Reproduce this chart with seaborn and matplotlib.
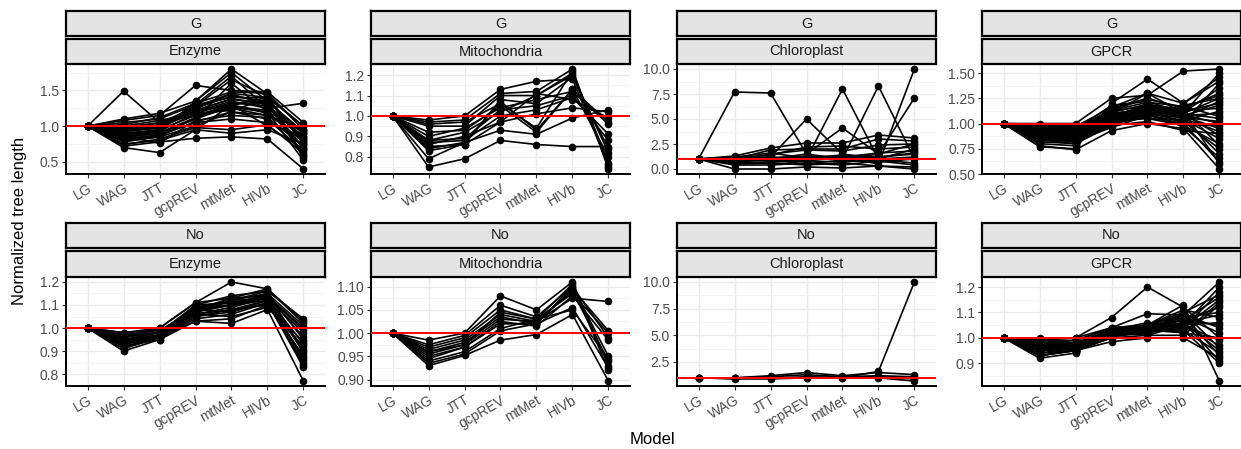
import matplotlib
matplotlib.use("Agg")
import matplotlib.pyplot as plt
import numpy as np
import pandas as pd
import seaborn as sns

MODELS = ["LG", "WAG", "JTT", "gcpREV", "mtMet", "HIVb", "JC"]
GROUPS = ["G", "No"]
DATASETS = ["Enzyme", "Mitochondria", "Chloroplast", "GPCR"]

G_ENZYME = [
    [1, 1.49, 1.05, 1.20, 1.30, 1.40, 1.00],
    [1, 0.70, 0.63, 0.95, 1.30, 1.35, 0.90],
    [1, 1.10, 1.18, 1.35, 1.80, 1.45, 0.55],
    [1, 0.72, 0.78, 0.83, 0.85, 0.82, 0.40],
    [1, 1.08, 1.15, 1.57, 1.50, 1.48, 1.05],
    [1, 0.90, 0.95, 1.30, 1.70, 1.25, 1.32],
    [1, 0.85, 0.90, 1.10, 1.60, 1.20, 0.52],
    [1, 0.95, 1.00, 1.25, 1.45, 1.30, 0.70],
    [1, 0.80, 0.85, 1.00, 1.20, 1.10, 0.65],
    [1, 1.05, 1.10, 1.30, 1.40, 1.40, 0.80],
    [1, 0.75, 0.80, 0.95, 0.90, 0.95, 0.75],
    [1, 0.98, 1.05, 1.15, 1.25, 1.15, 0.95],
    [1, 0.88, 0.92, 1.35, 1.75, 1.35, 0.60],
    [1, 0.82, 0.88, 1.05, 1.10, 1.05, 0.85],
    [1, 0.92, 0.98, 1.20, 1.35, 1.25, 0.90],
    [1, 0.78, 0.85, 1.12, 1.30, 1.00, 0.68],
    [1, 0.96, 1.02, 1.28, 1.65, 1.42, 1.00],
    [1, 1.00, 1.08, 1.18, 1.22, 1.38, 0.78],
    [1, 0.86, 0.76, 1.08, 1.15, 1.12, 0.72],
    [1, 0.93, 0.97, 1.22, 1.38, 1.30, 0.82],
    [1, 0.74, 0.82, 0.98, 0.95, 1.02, 0.62],
    [1, 1.02, 1.12, 1.32, 1.48, 1.46, 0.95],
    [1, 0.90, 0.93, 1.18, 1.33, 1.28, 0.85],
    [1, 0.84, 0.90, 1.10, 1.28, 1.22, 0.70],
    [1, 0.97, 1.00, 1.25, 1.42, 1.35, 0.92],
    [1, 0.88, 0.95, 1.15, 1.30, 1.18, 0.78],
    [1, 0.94, 0.99, 1.22, 1.38, 1.32, 0.58],
    [1, 0.80, 0.87, 1.06, 1.20, 1.15, 0.88],
    [1, 0.99, 1.04, 1.27, 1.46, 1.40, 0.75],
    [1, 0.86, 0.91, 1.12, 1.26, 1.20, 0.95],
]
G_MITO = [
    [1, 0.75, 0.79, 0.88, 0.86, 0.85, 0.85],
    [1, 0.79, 0.87, 0.93, 0.91, 0.99, 1.03],
    [1, 0.98, 1.00, 1.13, 1.17, 1.18, 0.76],
    [1, 0.97, 0.98, 1.11, 1.12, 1.23, 0.74],
    [1, 0.96, 0.97, 1.06, 0.94, 1.22, 0.75],
    [1, 0.95, 0.95, 1.10, 1.10, 1.20, 0.82],
    [1, 0.92, 0.93, 1.05, 0.92, 1.13, 0.97],
    [1, 0.90, 0.94, 1.04, 1.08, 1.12, 0.96],
    [1, 0.88, 0.89, 1.03, 1.05, 1.10, 0.88],
    [1, 0.87, 0.88, 1.00, 1.03, 1.09, 0.91],
    [1, 0.86, 0.90, 0.97, 1.01, 1.04, 1.02],
    [1, 0.85, 0.86, 1.08, 1.06, 1.19, 0.84],
    [1, 0.84, 0.87, 1.07, 0.93, 1.13, 0.80],
    [1, 0.83, 0.86, 0.97, 1.11, 1.08, 0.99],
    [1, 0.88, 0.92, 1.02, 1.10, 1.21, 0.77],
]
G_CHLORO = [
    [1, 7.7, 7.6, 1.5, 1.0, 1.2, 1.5],
    [1, 1.0, 1.2, 5.0, 1.5, 1.0, 2.0],
    [1, 1.0, 0.8, 1.0, 8.0, 1.0, 1.2],
    [1, 1.2, 1.0, 1.5, 4.1, 1.5, 2.5],
    [1, 0.8, 1.0, 1.2, 1.0, 8.3, 1.0],
    [1, 1.0, 1.0, 0.8, 1.2, 0.5, 10.0],
    [1, 1.0, 1.2, 1.0, 1.0, 1.5, 7.1],
    [1, 0.0, 0.0, 0.2, 0.1, 0.3, 0.0],
    [1, 1.3, 2.1, 2.6, 2.6, 3.4, 3.1],
    [1, 0.5, 0.6, 0.4, 0.6, 0.3, 0.2],
    [1, 1.0, 1.9, 2.0, 2.0, 3.0, 2.8],
    [1, 0.8, 1.5, 1.9, 1.8, 2.4, 2.5],
    [1, 0.9, 1.1, 1.3, 1.2, 1.6, 1.8],
    [1, 0.6, 0.7, 0.8, 0.7, 0.9, 0.6],
    [1, 1.1, 1.4, 2.2, 2.3, 2.0, 2.2],
    [1, 0.4, 0.4, 0.6, 0.4, 0.8, 0.4],
    [1, 1.2, 1.6, 1.1, 1.4, 1.2, 1.6],
    [1, 0.7, 0.9, 0.5, 0.9, 0.7, 1.0],
]
G_GPCR = [
    [1, 1.00, 1.00, 1.25, 1.28, 1.52, 1.54],
    [1, 0.78, 0.74, 0.93, 1.00, 0.95, 0.55],
    [1, 0.77, 0.75, 1.20, 1.44, 1.20, 1.42],
    [1, 0.80, 0.78, 1.10, 1.30, 1.10, 1.50],
    [1, 0.85, 0.82, 1.00, 1.15, 1.00, 0.62],
    [1, 0.90, 0.88, 1.15, 1.25, 1.15, 1.30],
    [1, 0.95, 0.92, 1.05, 1.20, 1.05, 0.70],
    [1, 0.88, 0.85, 1.08, 1.10, 1.18, 1.25],
    [1, 0.92, 0.90, 1.02, 1.05, 0.98, 0.80],
    [1, 0.97, 0.96, 1.12, 1.18, 1.12, 1.20],
    [1, 0.82, 0.80, 0.98, 1.02, 0.93, 0.90],
    [1, 0.93, 0.94, 1.18, 1.22, 1.10, 1.05],
    [1, 0.86, 0.83, 0.96, 1.08, 1.02, 0.75],
    [1, 0.99, 0.98, 1.07, 1.12, 1.08, 1.10],
    [1, 0.90, 0.86, 1.03, 1.16, 1.07, 0.95],
    [1, 0.84, 0.80, 1.00, 1.06, 1.00, 1.40],
    [1, 0.94, 0.93, 1.10, 1.14, 1.13, 1.15],
    [1, 0.87, 0.88, 1.05, 1.20, 1.04, 0.85],
    [1, 0.96, 0.95, 1.14, 1.24, 1.16, 1.28],
    [1, 0.83, 0.84, 0.99, 1.09, 0.97, 0.66],
    [1, 0.91, 0.91, 1.06, 1.12, 1.09, 1.00],
    [1, 0.98, 0.97, 1.16, 1.30, 1.20, 1.46],
    [1, 0.89, 0.87, 1.04, 1.13, 1.06, 1.22],
    [1, 0.93, 0.90, 1.08, 1.17, 1.10, 0.88],
    [1, 0.86, 0.84, 1.02, 1.10, 1.03, 1.12],
    [1, 0.95, 0.94, 1.11, 1.19, 1.14, 0.78],
    [1, 0.91, 0.89, 1.06, 1.15, 1.11, 1.35],
    [1, 0.88, 0.86, 1.00, 1.09, 0.99, 0.98],
    [1, 0.97, 0.95, 1.13, 1.21, 1.17, 1.07],
    [1, 0.84, 0.82, 1.01, 1.11, 1.05, 0.92],
    [1, 0.92, 0.92, 1.09, 1.16, 1.08, 1.18],
    [1, 0.90, 0.90, 1.07, 1.18, 1.12, 0.60],
    [1, 0.94, 0.91, 1.04, 1.14, 1.06, 1.02],
    [1, 0.87, 0.85, 1.03, 1.12, 1.10, 1.25],
]
NO_ENZYME = [
    [1, 0.90, 0.95, 1.03, 1.02, 1.08, 0.77],
    [1, 0.98, 1.00, 1.11, 1.20, 1.17, 1.03],
    [1, 0.93, 0.96, 1.10, 1.14, 1.16, 1.04],
    [1, 0.95, 0.97, 1.07, 1.10, 1.12, 0.84],
    [1, 0.92, 0.95, 1.05, 1.08, 1.10, 0.88],
    [1, 0.96, 0.98, 1.09, 1.12, 1.15, 0.95],
    [1, 0.97, 0.99, 1.06, 1.05, 1.09, 0.92],
    [1, 0.94, 0.97, 1.08, 1.13, 1.14, 1.00],
    [1, 0.91, 0.96, 1.04, 1.06, 1.11, 0.83],
    [1, 0.95, 0.98, 1.10, 1.11, 1.13, 0.98],
    [1, 0.98, 0.99, 1.08, 1.07, 1.12, 0.90],
    [1, 0.93, 0.97, 1.06, 1.09, 1.13, 0.86],
    [1, 0.96, 1.00, 1.11, 1.13, 1.17, 1.02],
    [1, 0.94, 0.96, 1.03, 1.04, 1.10, 0.94],
    [1, 0.97, 0.98, 1.09, 1.10, 1.14, 0.96],
    [1, 0.95, 0.96, 1.07, 1.12, 1.16, 0.89],
    [1, 0.94, 0.97, 1.08, 1.10, 1.13, 0.91],
    [1, 0.96, 0.98, 1.09, 1.11, 1.14, 0.99],
    [1, 0.93, 0.96, 1.06, 1.08, 1.12, 0.87],
    [1, 0.95, 0.97, 1.07, 1.10, 1.15, 1.01],
    [1, 0.97, 0.98, 1.08, 1.12, 1.13, 0.93],
    [1, 0.92, 0.96, 1.05, 1.07, 1.11, 0.85],
]
NO_MITO = [
    [1, 0.985, 1.000, 1.080, 1.050, 1.110, 0.930],
    [1, 0.975, 0.995, 1.060, 1.035, 1.100, 0.950],
    [1, 0.970, 0.990, 1.050, 1.030, 1.105, 0.920],
    [1, 0.965, 0.985, 1.040, 1.025, 1.075, 1.068],
    [1, 0.960, 0.980, 1.035, 1.020, 1.095, 1.005],
    [1, 0.955, 0.975, 1.030, 1.025, 1.090, 0.940],
    [1, 0.950, 0.970, 1.025, 1.015, 1.080, 0.985],
    [1, 0.945, 0.970, 1.020, 1.020, 1.055, 0.925],
    [1, 0.940, 0.960, 1.010, 1.030, 1.050, 0.945],
    [1, 0.935, 0.955, 1.005, 1.020, 1.100, 0.990],
    [1, 0.930, 0.952, 0.985, 0.997, 1.040, 0.897],
    [1, 0.960, 0.975, 1.045, 1.030, 1.085, 1.000],
]
NO_CHLORO = [
    [1, 0.95, 1.00, 1.00, 1.00, 1.60, 10.0],
    [1, 1.00, 1.20, 1.50, 1.20, 1.50, 1.30],
    [1, 0.90, 0.90, 1.00, 1.00, 1.00, 0.70],
    [1, 1.00, 1.10, 1.30, 1.10, 1.20, 1.10],
    [1, 0.95, 1.00, 1.10, 1.05, 1.10, 0.90],
]
NO_GPCR = [
    [1, 1.00, 1.00, 1.08, 1.20, 1.12, 1.00],
    [1, 0.92, 0.94, 1.04, 1.095, 1.09, 1.22],
    [1, 0.93, 0.95, 1.00, 1.05, 1.13, 0.83],
    [1, 0.95, 0.96, 1.03, 1.04, 1.05, 1.20],
    [1, 0.97, 0.97, 1.02, 1.03, 1.03, 0.90],
    [1, 0.98, 0.99, 1.04, 1.05, 1.10, 1.17],
    [1, 0.96, 0.95, 0.985, 1.00, 1.00, 0.92],
    [1, 0.99, 0.98, 1.03, 1.06, 1.04, 1.15],
    [1, 0.94, 0.96, 1.01, 1.02, 1.06, 0.95],
    [1, 0.97, 0.98, 1.02, 1.04, 1.08, 1.10],
    [1, 0.95, 0.97, 1.01, 1.03, 1.02, 1.00],
    [1, 0.99, 1.00, 1.04, 1.05, 1.07, 1.05],
    [1, 0.96, 0.97, 1.02, 1.01, 1.05, 0.97],
    [1, 0.98, 0.98, 1.03, 1.04, 1.07, 1.12],
    [1, 0.93, 0.95, 1.02, 1.03, 1.09, 0.93],
    [1, 0.97, 0.96, 1.03, 1.05, 1.11, 1.08],
    [1, 0.96, 0.96, 1.01, 1.02, 1.04, 1.18],
    [1, 0.95, 0.955, 1.015, 1.025, 1.06, 0.91],
    [1, 0.97, 0.965, 1.02, 1.035, 1.07, 1.16],
    [1, 0.98, 0.97, 1.025, 1.03, 1.03, 0.94],
    [1, 0.94, 0.95, 1.005, 1.02, 1.05, 1.06],
    [1, 0.99, 0.99, 1.035, 1.045, 1.08, 1.02],
    [1, 0.96, 0.98, 1.03, 1.04, 1.02, 1.14],
    [1, 0.97, 0.96, 1.015, 1.03, 1.10, 0.96],
    [1, 0.95, 0.96, 1.02, 1.04, 1.06, 1.09],
    [1, 0.98, 0.975, 1.025, 1.035, 1.05, 0.99],
    [1, 0.93, 0.95, 1.00, 1.01, 1.01, 1.13],
    [1, 0.965, 0.97, 1.03, 1.05, 1.09, 1.04],
]

PANEL_DATA = {
    ("G", "Enzyme"): G_ENZYME, ("G", "Mitochondria"): G_MITO,
    ("G", "Chloroplast"): G_CHLORO, ("G", "GPCR"): G_GPCR,
    ("No", "Enzyme"): NO_ENZYME, ("No", "Mitochondria"): NO_MITO,
    ("No", "Chloroplast"): NO_CHLORO, ("No", "GPCR"): NO_GPCR,
}
YTICKS = {
    ("G", "Enzyme"): ([0.5, 1.0, 1.5], "%.1f"),
    ("G", "Mitochondria"): ([0.8, 0.9, 1.0, 1.1, 1.2], "%.1f"),
    ("G", "Chloroplast"): ([0.0, 2.5, 5.0, 7.5, 10.0], "%.1f"),
    ("G", "GPCR"): ([0.5, 0.75, 1.0, 1.25, 1.5], "%.2f"),
    ("No", "Enzyme"): ([0.8, 0.9, 1.0, 1.1, 1.2], "%.1f"),
    ("No", "Mitochondria"): ([0.90, 0.95, 1.00, 1.05, 1.10], "%.2f"),
    ("No", "Chloroplast"): ([2.5, 5.0, 7.5, 10.0], "%.1f"),
    ("No", "GPCR"): ([0.9, 1.0, 1.1, 1.2], "%.1f"),
}

sns.set_theme(style="white")
plt.rcParams["font.family"] = ["Liberation Sans", "DejaVu Sans"]

W, H = 1241, 449
fig = plt.figure(figsize=(W / 100, H / 100), dpi=100)

lefts = [66, 371, 677, 982]
pw = 259
rows = {"G": (64, 174, 11, 36, 39, 64), "No": (277, 386, 223, 248, 251, 277)}


def fr(x0, y0, x1, y1):
    return [x0 / W, 1 - y1 / H, (x1 - x0) / W, (y1 - y0) / H]


def strip(x0, y0, y1, text):
    sa = fig.add_axes(fr(x0, y0, x0 + pw, y1))
    sa.set_facecolor("#E4E4E4")
    sa.set_xticks([]); sa.set_yticks([])
    for s in sa.spines.values():
        s.set_color("black"); s.set_linewidth(1.6)
    sa.text(0.5, 0.5, text, ha="center", va="center", fontsize=10.5,
            color="#1A1A1A", transform=sa.transAxes)


for g in GROUPS:
    py0, py1, s1a, s1b, s2a, s2b = rows[g]
    for j, dset in enumerate(DATASETS):
        x0 = lefts[j]
        vals = PANEL_DATA[(g, dset)]
        recs = []
        for gi, line in enumerate(vals):
            for m, v in zip(MODELS, line):
                recs.append({"gene": gi, "model": m, "value": v})
        df = pd.DataFrame(recs)
        ax = fig.add_axes(fr(x0, py0, x0 + pw, py1))
        ax.set_facecolor("white")
        sns.lineplot(data=df, x="model", y="value", units="gene", estimator=None,
                     sort=False, color="black", linewidth=1.2, marker="o",
                     markersize=5.5, markeredgewidth=0, ax=ax, zorder=3)
        ax.axhline(1.0, color="red", linewidth=1.4, zorder=4)
        ax.set_xlim(-0.6, 6.6)
        ticks, fmt = YTICKS[(g, dset)]
        ax.set_yticks(ticks)
        ax.set_yticklabels([fmt % t for t in ticks])
        lo, hi = ax.get_ylim()
        step = ticks[1] - ticks[0]
        minors = [t - step / 2 for t in ticks] + [ticks[-1] + step / 2]
        ax.set_yticks(minors, minor=True)
        ax.set_ylim(lo, hi)
        ax.grid(True, which="major", color="#EBEBEB", linewidth=1.0, zorder=0)
        ax.grid(True, which="minor", axis="y", color="#F3F3F3", linewidth=0.6, zorder=0)
        ax.set_axisbelow(True)
        ax.tick_params(which="minor", length=0)
        ax.tick_params(which="major", length=3, width=0.8, color="#333333",
                       labelcolor="#4D4D4D", labelsize=10, pad=2, direction="out",
                       bottom=True, left=True)
        plt.setp(ax.get_xticklabels(), rotation=30, ha="right", rotation_mode="anchor")
        for side in ["top", "right"]:
            ax.spines[side].set_visible(False)
        for side in ["left", "bottom"]:
            ax.spines[side].set_color("black"); ax.spines[side].set_linewidth(1.4)
        ax.set_xlabel(""); ax.set_ylabel("")
        strip(x0, s1a, s1b, g)
        strip(x0, s2a, s2b, dset)

fig.text(20 / W, 1 - 221 / H, "Normalized tree length", rotation=90,
         ha="center", va="center", fontsize=12, color="black")
fig.text(652 / W, 1 - 440 / H, "Model", ha="center", va="center",
         fontsize=12, color="black")

fig.savefig("out.png", dpi=100)
